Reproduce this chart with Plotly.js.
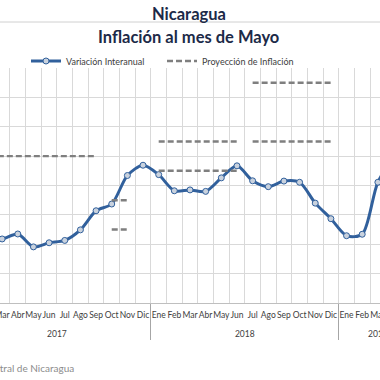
<!DOCTYPE html>
<html>
<head>
<meta charset="utf-8">
<script src="https://cdn.plot.ly/plotly-3.0.1.min.js"></script>
<style>
html,body{margin:0;padding:0;background:#fff;width:380px;height:380px;overflow:hidden;position:relative;}
#chart{position:absolute;left:-77px;top:0;width:534px;height:380px;}
</style>
</head>
<body>
<div id="chart"></div>
<script>
// Category labels
const monthNames = ['Ene','Feb','Mar','Abr','May','Jun','Jul','Ago','Sep','Oct','Nov','Dic'];
const yearNames = ['2017','2018','2019'];
const monthsPerYear = [12, 12, 5];
const monthLabels = monthNames.concat(monthNames, monthNames.slice(0,5));

// Variación interanual (%)
const variacionInteranual = [3.25,3.20,3.18,3.35,2.91,3.05,3.13,3.49,4.14,4.37,5.34,5.69,
                             5.37,4.82,4.85,4.80,5.26,5.67,5.16,4.96,5.15,5.11,4.40,3.87,
                             3.29,3.34,5.11,5.90,6.10];
// Proyección de inflación (%)
const N = null;
const proy2017 =      [6.0,6.0,6.0,6.0,6.0,6.0,6.0,6.0,6.0,N,N,N, N,N,N,N,N,N,N,N,N,N,N,N, N,N,N,N,N];
const proyTecho =     [N,N,N,N,N,N,N,N,N,4.5,4.5,N, 6.5,6.5,6.5,6.5,6.5,6.5,N,N,N,N,N,N, N,N,N,N,N];
const proyPiso =      [N,N,N,N,N,N,N,N,N,3.5,3.5,N, 5.5,5.5,5.5,5.5,5.5,5.5,N,N,N,N,N,N, N,N,N,N,N];
const proyRevTecho =  [N,N,N,N,N,N,N,N,N,N,N,N, N,N,N,N,N,N,8.5,8.5,8.5,8.5,8.5,8.5, N,N,N,N,N];
const proyRevPiso =   [N,N,N,N,N,N,N,N,N,N,N,N, N,N,N,N,N,N,6.5,6.5,6.5,6.5,6.5,6.5, N,N,N,N,N];

// year label per month (blank first line pushes the year row a little lower, as in Excel)
const yearLabels = [];
yearNames.forEach((y, i) => { for (let k = 0; k < monthsPerYear[i]; k++) yearLabels.push('<br>' + y); });
const xCats = [yearLabels, monthLabels];

const dashLine = {color:'#7f7f7f', width:2.4, dash:'6px,3px'};
function proyTrace(vals, show){
  return {x:xCats, y:vals, type:'scatter', mode:'lines', name:'Proyección de Inflación',
          line:dashLine, connectgaps:false, showlegend:show, hoverinfo:'skip'};
}
const traces = [
  {x:xCats, y:variacionInteranual, type:'scatter', mode:'lines+markers', name:'Variación Interanual',
   line:{color:'#31609c', width:3, shape:'spline', smoothing:0.8},
   marker:{symbol:'circle', size:6, color:'#c9d2de', line:{color:'#31609c', width:1}}},
  proyTrace(proy2017, true),
  proyTrace(proyTecho, false),
  proyTrace(proyPiso, false),
  proyTrace(proyRevTecho, false),
  proyTrace(proyRevPiso, false)
];

// plot area spans 454 px inside a 534 px wide figure, shifted 77 px left of the window
const PW = 454, ML = 40, SHIFT = 77;
function px2paper(wx){ return (wx + SHIFT - ML) / PW; }
const PT = 68, PB = 303, PH = PB - PT;
function py2paper(wy){ return (PB - wy) / PH; }

const layout = {
  width:534, height:380,
  margin:{l:ML, r:40, t:PT, b:380-PB, pad:0},
  paper_bgcolor:'#ffffff', plot_bgcolor:'#ffffff',
  font:{family:'Lato, "Open Sans", sans-serif', size:9, color:'#404040'},
  showlegend:true,
  legend:{orientation:'h', x:px2paper(26), xanchor:'left', y:py2paper(61), yanchor:'middle',
          font:{size:9, color:'#404040'}, entrywidth:91, bgcolor:'rgba(0,0,0,0)', tracegroupgap:0},
  xaxis:{type:'multicategory', range:[-0.5, 28.5], showgrid:true, gridcolor:'#d9d9d9', gridwidth:1,
         showline:true, linecolor:'#bfbfbf', linewidth:1, ticks:'', tickangle:0, showdividers:true,
         ticklabelstandoff:4,
         dividercolor:'#a6a6a6', dividerwidth:1, tickfont:{size:8.5, color:'#404040'}, zeroline:false},
  yaxis:{range:[1,9], tickvals:[2,3,4,5,6,7,8], showticklabels:false, showgrid:true,
         gridcolor:'#d9d9d9', gridwidth:1, zeroline:false, showline:false, fixedrange:true},
  annotations:[
    {text:'<b>Nicaragua</b>', xref:'paper', yref:'paper', x:px2paper(189), y:py2paper(14), xanchor:'center', yanchor:'middle',
     showarrow:false, font:{size:16.5, color:'#1c2a48', family:'Lato, sans-serif'}},
    {text:'<b>Inflación al mes de Mayo</b>', xref:'paper', yref:'paper', x:px2paper(188), y:py2paper(37), xanchor:'center', yanchor:'middle',
     showarrow:false, font:{size:16.5, color:'#1c2a48', family:'Lato, sans-serif'}},
    {text:'Fuente: Banco Central de Nicaragua', xref:'paper', yref:'paper', x:px2paper(76), y:py2paper(368), xanchor:'right', yanchor:'middle',
     showarrow:false, font:{size:10, color:'#8c8c8c'}}
  ],
  shapes:[
    {type:'line', xref:'paper', yref:'paper', x0:px2paper(-10), x1:px2paper(390), y0:py2paper(22), y1:py2paper(22),
     line:{color:'#d0d0d0', width:1}}
  ]
};
Plotly.newPlot('chart', traces, layout, {displayModeBar:false, staticPlot:true});
</script>
</body>
</html>
